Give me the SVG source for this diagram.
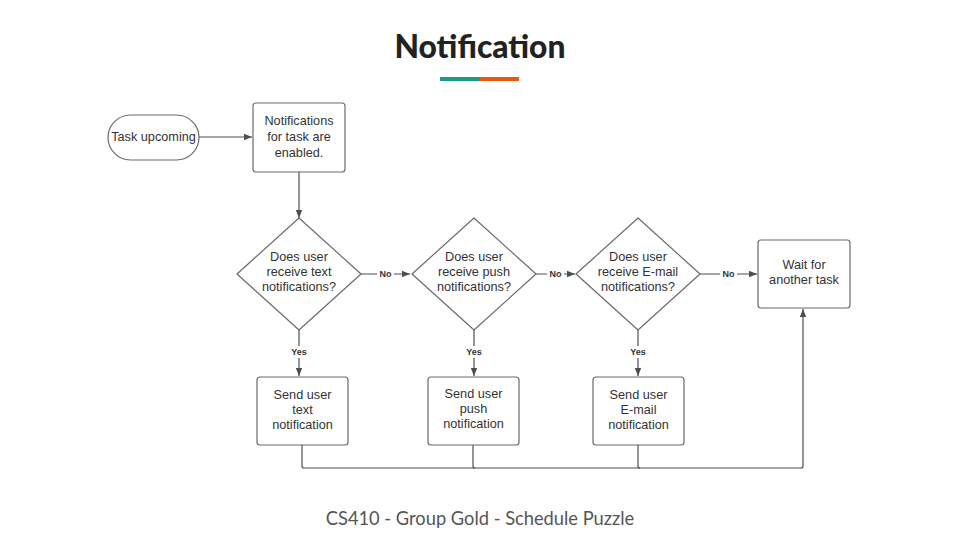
<svg xmlns="http://www.w3.org/2000/svg" width="960" height="540" viewBox="0 0 960 540">
<style>
.node{fill:#fff;stroke:#6b6b6b;stroke-width:1.2}
.t{font-family:"Liberation Sans",Arial,sans-serif;font-size:12.7px;fill:#333;text-anchor:middle}
.c{fill:none;stroke:#4a4f57;stroke-width:1.2}
.lbl{font-family:"Liberation Sans",Arial,sans-serif;font-size:9px;font-weight:bold;fill:#333;text-anchor:middle}
.lblbg{fill:#fff}
</style>
<defs>
<marker id="ah" viewBox="0 0 10 10" refX="10" refY="5" markerWidth="8" markerHeight="8" markerUnits="userSpaceOnUse" orient="auto">
<path d="M0,1 L10,5 L0,9 z" fill="#4a4f57"/>
</marker>
</defs>
<rect width="960" height="540" fill="#fff"/>
<text x="480" y="58" font-family="Lato,'Open Sans',sans-serif" font-weight="900" font-size="32" fill="#222" text-anchor="middle" textLength="171" lengthAdjust="spacingAndGlyphs">Notification</text>
<rect x="440" y="77" width="40" height="4" fill="#1a9b8a"/>
<rect x="480" y="77" width="39" height="4" fill="#e8590c"/>

<g id="connectors">
<path class="c" d="M199,137 H252" marker-end="url(#ah)"/>
<path class="c" d="M299,172 V218" marker-end="url(#ah)"/>
<path class="c" d="M361,274 H410" marker-end="url(#ah)"/>
<path class="c" d="M536,274 H575" marker-end="url(#ah)"/>
<path class="c" d="M700,274 H757" marker-end="url(#ah)"/>
<path class="c" d="M299,330 V376" marker-end="url(#ah)"/>
<path class="c" d="M474,330 V376" marker-end="url(#ah)"/>
<path class="c" d="M638,330 V376" marker-end="url(#ah)"/>
<path class="c" d="M302,445 V466 Q302,468 304,468 H801 Q803,468 803,466 V309" marker-end="url(#ah)"/>
<path class="c" d="M473,445 V466 Q473,468 475,468"/>
<path class="c" d="M638,445 V466 Q638,468 640,468"/>
<rect class="lblbg" x="377" y="267" width="17" height="12"/>
<text class="lbl" x="385.5" y="276.5">No</text>
<rect class="lblbg" x="547" y="267" width="17" height="12"/>
<text class="lbl" x="555.5" y="276.5">No</text>
<rect class="lblbg" x="720" y="267" width="17" height="12"/>
<text class="lbl" x="728.5" y="276.5">No</text>
<rect class="lblbg" x="288" y="346" width="22" height="12"/>
<text class="lbl" x="299" y="355">Yes</text>
<rect class="lblbg" x="463" y="346" width="22" height="12"/>
<text class="lbl" x="474" y="355">Yes</text>
<rect class="lblbg" x="627" y="346" width="22" height="12"/>
<text class="lbl" x="638" y="355">Yes</text>
</g>

<g id="task-upcoming">
<rect class="node" x="108" y="115" width="91" height="45" rx="22.5"/>
<text class="t" x="153.5" y="141">Task upcoming</text>
</g>
<g id="notifications-enabled">
<rect class="node" x="253" y="103" width="92" height="69" rx="3"/>
<text class="t" x="299" y="125">Notifications</text>
<text class="t" x="299" y="141">for task are</text>
<text class="t" x="299" y="157">enabled.</text>
</g>
<g id="q-text">
<path class="node" d="M299,218 L361,274 L299,330 L237,274 Z" stroke-linejoin="round"/>
<text class="t" x="299" y="261">Does user</text>
<text class="t" x="299" y="276">receive text</text>
<text class="t" x="299" y="291">notifications?</text>
</g>
<g id="q-push">
<path class="node" d="M474,218 L536,274 L474,330 L412,274 Z" stroke-linejoin="round"/>
<text class="t" x="474" y="261">Does user</text>
<text class="t" x="474" y="276">receive push</text>
<text class="t" x="474" y="291">notifications?</text>
</g>
<g id="q-email">
<path class="node" d="M638,218 L700,274 L638,330 L576,274 Z" stroke-linejoin="round"/>
<text class="t" x="638" y="261">Does user</text>
<text class="t" x="638" y="276">receive E-mail</text>
<text class="t" x="638" y="291">notifications?</text>
</g>
<g id="wait">
<rect class="node" x="758" y="240" width="92" height="68" rx="3"/>
<text class="t" x="804" y="269">Wait for</text>
<text class="t" x="804" y="284">another task</text>
</g>
<g id="send-text">
<rect class="node" x="257" y="377" width="91" height="68" rx="3"/>
<text class="t" x="302.5" y="399">Send user</text>
<text class="t" x="302.5" y="414">text</text>
<text class="t" x="302.5" y="429">notification</text>
</g>
<g id="send-push">
<rect class="node" x="428" y="377" width="91" height="68" rx="3"/>
<text class="t" x="473.5" y="398">Send user</text>
<text class="t" x="473.5" y="413">push</text>
<text class="t" x="473.5" y="428">notification</text>
</g>
<g id="send-email">
<rect class="node" x="593" y="377" width="91" height="68" rx="3"/>
<text class="t" x="638.5" y="399">Send user</text>
<text class="t" x="638.5" y="414">E-mail</text>
<text class="t" x="638.5" y="429">notification</text>
</g>

<text x="480" y="525" font-family="Lato,'Open Sans',sans-serif" font-size="18.3" fill="#555" text-anchor="middle">CS410 - Group Gold - Schedule Puzzle</text>
</svg>
